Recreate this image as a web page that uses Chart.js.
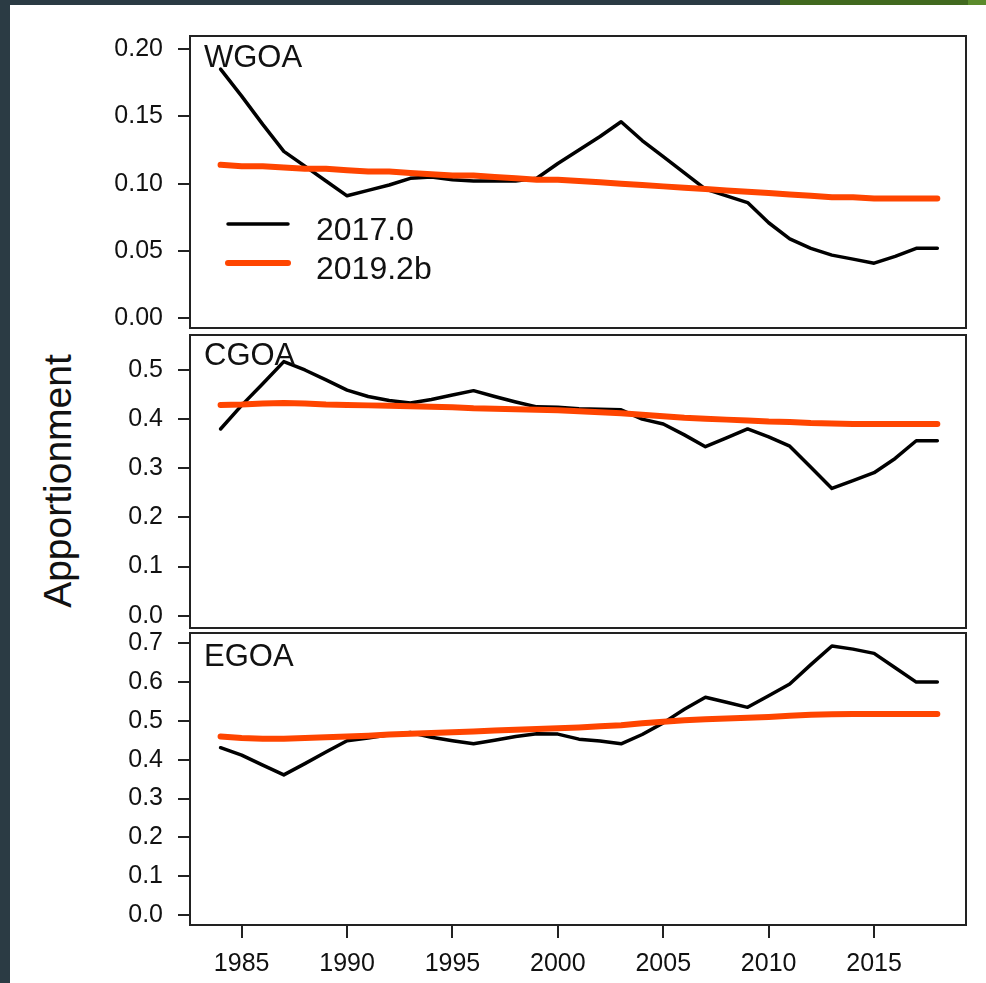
<!DOCTYPE html>
<html>
<head>
<meta charset="utf-8">
<script src="https://cdn.jsdelivr.net/npm/chart.js@4/dist/chart.umd.min.js"></script>
<style>
  html, body { margin: 0; padding: 0; background: #fff; width: 986px; height: 983px; overflow: hidden; position: relative; font-family: "Liberation Sans", Arial, sans-serif; }
  .strip { position: absolute; }
  canvas { position: absolute; left: 0; }
  #ylab { position: absolute; left: 57px; top: 481px; transform: translate(-50%, -50%) rotate(-90deg); font-size: 39px; line-height: 39px; white-space: nowrap; color: #111; }
</style>
</head>
<body>
<div class="strip" style="left:0;top:0;width:986px;height:5px;background:#2b3b44"></div>
<div class="strip" style="left:0;top:0;width:10px;height:983px;background:#2b3b44"></div>
<div class="strip" style="left:780px;top:0;width:188px;height:5px;background:#41691f"></div>
<div class="strip" style="left:968px;top:0;width:18px;height:5px;background:#5b8b2c"></div>
<div id="ylab">Apportionment</div>
<canvas id="wgoa" width="986" height="312" style="top:26px"></canvas>
<canvas id="cgoa" width="986" height="313" style="top:325px"></canvas>
<canvas id="egoa" width="986" height="360" style="top:623px"></canvas>
<script>
// Survey years
const years = [1984, 1985, 1986, 1987, 1988, 1989, 1990, 1991, 1992, 1993, 1994, 1995,
  1996, 1997, 1998, 1999, 2000, 2001, 2002, 2003, 2004, 2005, 2006, 2007, 2008, 2009,
  2010, 2011, 2012, 2013, 2014, 2015, 2016, 2017, 2018];

const seriesNames = ['2017.0', '2019.2b'];

// Western Gulf of Alaska apportionment
const wgoa2017 = [0.185, 0.165, 0.144, 0.124, 0.113, 0.102, 0.091, 0.095, 0.099, 0.104, 0.105, 0.103,
  0.102, 0.102, 0.102, 0.104, 0.115, 0.125, 0.135, 0.146, 0.132, 0.120, 0.108, 0.096, 0.091, 0.086,
  0.071, 0.059, 0.052, 0.047, 0.044, 0.041, 0.046, 0.052, 0.052];
const wgoa2019 = [0.114, 0.113, 0.113, 0.112, 0.111, 0.111, 0.110, 0.109, 0.109, 0.108, 0.107, 0.106,
  0.106, 0.105, 0.104, 0.103, 0.103, 0.102, 0.101, 0.100, 0.099, 0.098, 0.097, 0.096, 0.095, 0.094,
  0.093, 0.092, 0.091, 0.090, 0.090, 0.089, 0.089, 0.089, 0.089];

// Central Gulf of Alaska apportionment
const cgoa2017 = [0.380, 0.428, 0.472, 0.517, 0.500, 0.480, 0.459, 0.446, 0.438, 0.433, 0.440, 0.449,
  0.458, 0.446, 0.435, 0.425, 0.424, 0.421, 0.420, 0.419, 0.400, 0.390, 0.368, 0.344, 0.362, 0.380,
  0.364, 0.345, 0.302, 0.259, 0.275, 0.291, 0.320, 0.356, 0.356];
const cgoa2019 = [0.429, 0.430, 0.432, 0.433, 0.432, 0.430, 0.429, 0.428, 0.427, 0.426, 0.425, 0.424,
  0.422, 0.421, 0.420, 0.419, 0.418, 0.416, 0.414, 0.412, 0.409, 0.406, 0.403, 0.401, 0.399, 0.397,
  0.395, 0.394, 0.392, 0.391, 0.390, 0.390, 0.390, 0.390, 0.390];

// Eastern Gulf of Alaska apportionment
const egoa2017 = [0.431, 0.412, 0.386, 0.361, 0.390, 0.420, 0.449, 0.456, 0.464, 0.470, 0.458, 0.449,
  0.441, 0.450, 0.460, 0.467, 0.466, 0.453, 0.448, 0.441, 0.465, 0.495, 0.530, 0.561, 0.548, 0.535,
  0.565, 0.595, 0.645, 0.693, 0.685, 0.674, 0.637, 0.600, 0.600];
const egoa2019 = [0.460, 0.456, 0.454, 0.454, 0.456, 0.458, 0.460, 0.462, 0.465, 0.467, 0.469, 0.471,
  0.473, 0.475, 0.477, 0.479, 0.481, 0.483, 0.486, 0.489, 0.494, 0.498, 0.502, 0.504, 0.506, 0.508,
  0.510, 0.513, 0.516, 0.517, 0.518, 0.518, 0.518, 0.518, 0.518];

// Axis ticks
const xTicks = [1985, 1990, 1995, 2000, 2005, 2010, 2015];
const xTickLabels = ['1985', '1990', '1995', '2000', '2005', '2010', '2015'];
const wgoaTicks = [0, 0.05, 0.10, 0.15, 0.20];
const wgoaTickLabels = ['0.00', '0.05', '0.10', '0.15', '0.20'];
const cgoaTicks = [0, 0.1, 0.2, 0.3, 0.4, 0.5];
const cgoaTickLabels = ['0.0', '0.1', '0.2', '0.3', '0.4', '0.5'];
const egoaTicks = [0, 0.1, 0.2, 0.3, 0.4, 0.5, 0.6, 0.7];
const egoaTickLabels = ['0.0', '0.1', '0.2', '0.3', '0.4', '0.5', '0.6', '0.7'];

const FONT = '"Liberation Sans", Arial, sans-serif';
const INK = '#222';
const OLD_COLOR = '#000000';
const NEW_COLOR = '#FF4500';

// Box around each panel, region name, and the legend in the first panel
const panelDecor = {
  id: 'panelDecor',
  afterDatasetsDraw(chart, args, opts) {
    const { ctx, chartArea: a } = chart;
    ctx.save();
    ctx.strokeStyle = INK;
    ctx.lineWidth = 2;
    ctx.strokeRect(a.left, a.top, a.right - a.left, a.bottom - a.top);

    ctx.fillStyle = '#111';
    ctx.font = '31px ' + FONT;
    ctx.textAlign = 'left';
    ctx.textBaseline = 'alphabetic';
    ctx.fillText(opts.title, a.left + 14, a.top + opts.titleDy);

    if (opts.legend) {
      const ds = chart.data.datasets;
      const rows = [
        { line: a.top + 188, text: a.top + 204 },
        { line: a.top + 227, text: a.top + 243 }
      ];
      ds.forEach((d, i) => {
        ctx.beginPath();
        ctx.strokeStyle = d.borderColor;
        ctx.lineWidth = d.borderWidth;
        ctx.lineCap = 'round';
        ctx.moveTo(a.left + 38, rows[i].line);
        ctx.lineTo(a.left + 98, rows[i].line);
        ctx.stroke();
        ctx.fillStyle = '#111';
        ctx.font = '32px ' + FONT;
        ctx.fillText(d.label, a.left + 126, rows[i].text);
      });
    }
    ctx.restore();
  }
};

function makePanel(id, opts) {
  const toPoints = arr => years.map((yr, i) => ({ x: yr, y: arr[i] }));
  return new Chart(document.getElementById(id), {
    type: 'line',
    data: {
      datasets: [
        { label: seriesNames[0], data: toPoints(opts.oldVals), borderColor: OLD_COLOR, borderWidth: 3.5,
          pointRadius: 0, tension: 0, order: 1, borderCapStyle: 'round', borderJoinStyle: 'round' },
        { label: seriesNames[1], data: toPoints(opts.newVals), borderColor: NEW_COLOR, borderWidth: 6,
          pointRadius: 0, tension: 0, order: 0, borderCapStyle: 'round', borderJoinStyle: 'round' }
      ]
    },
    options: {
      responsive: false,
      animation: false,
      events: [],
      layout: { padding: { left: 0, right: 20, top: 10, bottom: opts.showX ? 0 : 10 } },
      plugins: {
        legend: { display: false },
        tooltip: { enabled: false },
        panelDecor: { title: opts.title, titleDy: opts.titleDy, legend: !!opts.legend }
      },
      scales: {
        x: {
          type: 'linear',
          min: 1982.55,
          max: 2019.36,
          display: opts.showX,
          border: { display: false },
          grid: { drawOnChartArea: false, drawTicks: true, tickLength: 13, color: INK, lineWidth: 2 },
          ticks: {
            color: '#111',
            font: { family: FONT, size: 25 },
            padding: 11,
            maxRotation: 0,
            autoSkip: false,
            callback: (v, i) => xTickLabels[i]
          },
          afterBuildTicks: s => { s.ticks = xTicks.map(v => ({ value: v })); },
          afterFit: s => {
            s.height = opts.showX ? 58 : 0;
            s.paddingLeft = 0; s.paddingRight = 0;
          }
        },
        y: {
          type: 'linear',
          min: opts.min,
          max: opts.max,
          border: { display: false },
          grid: { drawOnChartArea: false, drawTicks: true, tickLength: 12, color: INK, lineWidth: 2 },
          ticks: {
            color: '#111',
            font: { family: FONT, size: 25 },
            padding: 15,
            autoSkip: false,
            callback: (v, i) => opts.tickLabels[i]
          },
          afterBuildTicks: s => { s.ticks = opts.ticks.map(v => ({ value: v })); },
          afterFit: s => { s.width = 190; s.paddingTop = 0; s.paddingBottom = 0; }
        }
      }
    },
    plugins: [panelDecor]
  });
}

makePanel('wgoa', { title: 'WGOA', titleDy: 31, legend: true, oldVals: wgoa2017, newVals: wgoa2019,
  min: -0.0071, max: 0.2096, ticks: wgoaTicks, tickLabels: wgoaTickLabels, showX: false });
makePanel('cgoa', { title: 'CGOA', titleDy: 30, oldVals: cgoa2017, newVals: cgoa2019,
  min: -0.025, max: 0.5712, ticks: cgoaTicks, tickLabels: cgoaTickLabels, showX: false });
makePanel('egoa', { title: 'EGOA', titleDy: 33, oldVals: egoa2017, newVals: egoa2019,
  min: -0.0258, max: 0.7265, ticks: egoaTicks, tickLabels: egoaTickLabels, showX: true });
</script>
</body>
</html>
